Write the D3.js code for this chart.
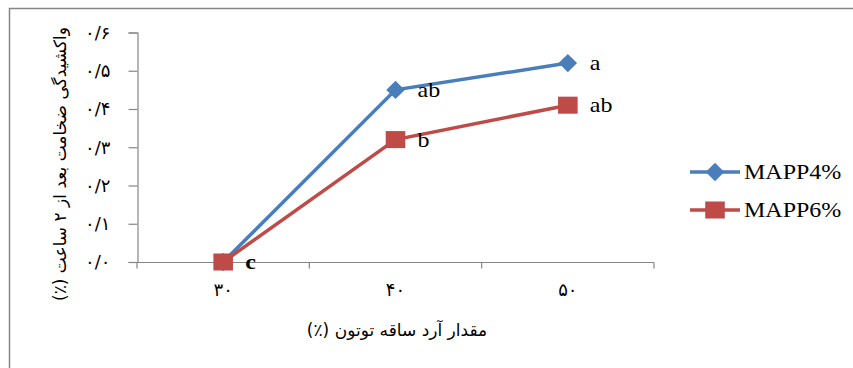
<!DOCTYPE html>
<html>
<head>
<meta charset="utf-8">
<script src="https://cdn.jsdelivr.net/npm/d3@7"></script>
<style>
  body { margin: 0; background: #fff; }
  svg { display: block; }
</style>
</head>
<body>
<script>
const w = 853;
const h = 368;

// داده‌ها
const categories = ["30", "40", "50"];
const mapp4 = [0.0, 0.45, 0.52];
const mapp6 = [0.0, 0.32, 0.41];
const labels4 = ["", "ab", "a"];
const labels6 = ["c", "b", "ab"];
const yTicks = [0, 0.1, 0.2, 0.3, 0.4, 0.5, 0.6];
const seriesNames = ["MAPP4%", "MAPP6%"];

const blue = "#4A7EBB";
const red = "#BE4B48";
const axisColor = "#868686";

const faDigits = "۰۱۲۳۴۵۶۷۸۹";
function toFa(s) {
  return String(s).replace(/[0-9]/g, d => faDigits[+d]).replace(".", "/");
}

const svg = d3.select("body").append("svg").attr("width", w).attr("height", h);

// قاب بیرونی
svg.append("path")
  .attr("d", "M9.5," + h + "V8.5H" + w)
  .attr("fill", "none")
  .attr("stroke", axisColor)
  .attr("stroke-width", 1.5);

const xScale = d3.scaleBand().domain(categories).range([137, 654]);
const yScale = d3.scaleLinear().domain([0, 0.6]).range([262, 32.5]);
const cx = d => xScale(d) + xScale.bandwidth() / 2;

// محور y
const yAxis = d3.axisLeft(yScale)
  .tickValues(yTicks)
  .tickSize(9)
  .tickPadding(18)
  .tickFormat(d => toFa(d.toFixed(1)));

const gy = svg.append("g")
  .attr("transform", "translate(137.5,0)")
  .call(yAxis);
gy.select(".domain").attr("stroke", axisColor).attr("stroke-width", 1.2);
gy.selectAll(".tick line").attr("stroke", axisColor).attr("stroke-width", 1.2);
gy.selectAll(".tick text")
  .attr("font-family", "DejaVu Sans")
  .attr("font-size", 18)
  .attr("fill", "#000");

// محور x
const gx = svg.append("g").attr("transform", "translate(0,262.5)");
gx.append("line")
  .attr("x1", 137).attr("x2", 654)
  .attr("stroke", axisColor).attr("stroke-width", 1.2);
const edges = categories.map(c => xScale(c)).concat([xScale.range()[1]]);
gx.selectAll(".edge")
  .data(edges)
  .enter()
  .append("line")
  .attr("x1", d => d).attr("x2", d => d)
  .attr("y1", 0).attr("y2", 6)
  .attr("stroke", axisColor).attr("stroke-width", 1.2);
gx.selectAll(".lbl")
  .data(categories)
  .enter()
  .append("text")
  .attr("x", d => cx(d))
  .attr("y", 33)
  .attr("text-anchor", "middle")
  .attr("font-family", "DejaVu Sans")
  .attr("font-size", 18)
  .text(d => toFa(d));

// عنوان محورها
svg.append("text")
  .attr("x", 397)
  .attr("y", 336)
  .attr("text-anchor", "middle")
  .attr("direction", "rtl")
  .attr("font-family", "DejaVu Sans")
  .attr("font-size", 17)
  .text("مقدار آرد ساقه توتون (٪)");

svg.append("text")
  .attr("transform", "translate(66,164) rotate(-90)")
  .attr("text-anchor", "middle")
  .attr("direction", "rtl")
  .attr("font-family", "DejaVu Sans")
  .attr("font-size", 17)
  .text("واکشیدگی ضخامت بعد از ۲ ساعت (٪)");

// خطوط
const line = d3.line()
  .x((d, i) => cx(categories[i]))
  .y(d => yScale(d));

const series = [
  { name: seriesNames[0], values: mapp4, labels: labels4, color: blue, rot: 45, sx: 1, size: 170 },
  { name: seriesNames[1], values: mapp6, labels: labels6, color: red, rot: 0, sx: 1.15, size: 290 }
];

series.forEach(s => {
  svg.append("path")
    .datum(s.values)
    .attr("d", line)
    .attr("fill", "none")
    .attr("stroke", s.color)
    .attr("stroke-width", 3.5);
});

const marker = (s, x, y) =>
  "translate(" + x + "," + y + ") scale(" + s.sx + ",1) rotate(" + s.rot + ")";

series.forEach(s => {
  svg.selectAll(null)
    .data(s.values)
    .enter()
    .append("path")
    .attr("d", d3.symbol().type(d3.symbolSquare).size(s.size))
    .attr("transform", (d, i) => marker(s, cx(categories[i]), yScale(d)))
    .attr("fill", s.color);
});

// حروف معنی‌داری
series.forEach(s => {
  svg.selectAll(null)
    .data(s.values)
    .enter()
    .append("text")
    .attr("transform", (d, i) =>
      "translate(" + (cx(categories[i]) + 22) + "," + (yScale(d) + 7) + ") scale(1.2,1)")
    .attr("font-family", "Liberation Serif")
    .attr("font-size", 20)
    .attr("font-weight", (d, i) => s.labels[i] === "c" ? "bold" : "normal")
    .text((d, i) => s.labels[i]);
});

// راهنما
const legend = svg.append("g");
series.forEach((s, i) => {
  const ly = 172 + i * 38;
  legend.append("line")
    .attr("x1", 690).attr("x2", 740)
    .attr("y1", ly).attr("y2", ly)
    .attr("stroke", s.color)
    .attr("stroke-width", 3.5);
  legend.append("path")
    .attr("d", d3.symbol().type(d3.symbolSquare).size(s.size))
    .attr("transform", marker(s, 715, ly))
    .attr("fill", s.color);
  legend.append("text")
    .attr("transform", "translate(744," + (ly + 7) + ") scale(1.2,1)")
    .attr("font-family", "Liberation Serif")
    .attr("font-size", 20)
    .text(s.name);
});
</script>
</body>
</html>
